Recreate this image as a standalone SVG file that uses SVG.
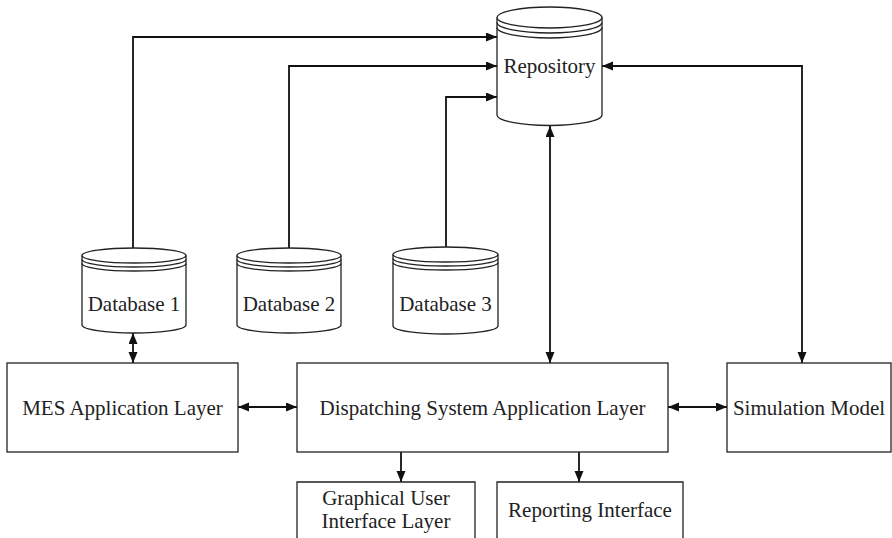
<svg xmlns="http://www.w3.org/2000/svg" width="892" height="538" viewBox="0 0 892 538">
<defs>
<marker id="ah" markerUnits="userSpaceOnUse" markerWidth="12" markerHeight="10" refX="11" refY="4.5" orient="auto-start-reverse">
<path d="M0,0 L11,4.5 L0,9 z" fill="#111"/>
</marker>
<style>
.box{fill:#fff;stroke:#222;stroke-width:1.3}
.cyl{fill:#fff;stroke:#222;stroke-width:1.3}
.ln{fill:none;stroke:#222;stroke-width:1.3}
.t{font-family:"Liberation Serif","Times New Roman",serif;font-size:21px;fill:#222;text-anchor:middle}
.c{fill:none;stroke:#111;stroke-width:1.8}
</style>
</defs>
<rect width="892" height="538" fill="#fff"/>
<g id="connectors">
<path class="c" d="M133,248 V37 H497" marker-end="url(#ah)"/>
<path class="c" d="M289,248 V66 H497" marker-end="url(#ah)"/>
<path class="c" d="M446,247 V97 H497" marker-end="url(#ah)"/>
<path class="c" d="M802,363 V66 H602" marker-start="url(#ah)" marker-end="url(#ah)"/>
<path class="c" d="M550,126 V363" marker-start="url(#ah)" marker-end="url(#ah)"/>
<path class="c" d="M133,333 V363" marker-start="url(#ah)" marker-end="url(#ah)"/>
<path class="c" d="M238,407 H297" marker-start="url(#ah)" marker-end="url(#ah)"/>
<path class="c" d="M668,407 H727" marker-start="url(#ah)" marker-end="url(#ah)"/>
<path class="c" d="M401,452 V482" marker-end="url(#ah)"/>
<path class="c" d="M579,452 V482" marker-end="url(#ah)"/>
</g>
<g id="repository">
<path class="cyl" d="M497,17.5 V115 A52.5,10.5 0 0 0 602,115 V17.5"/>
<ellipse class="cyl" cx="549.5" cy="17.5" rx="52.5" ry="10.5"/>
<path class="ln" d="M497,22.5 A52.5,10.5 0 0 0 602,22.5 M497,27.5 A52.5,10.5 0 0 0 602,27.5"/>
<text class="t" x="549.5" y="73">Repository</text>
</g>
<g id="database1">
<path class="cyl" d="M82,255.5 V325 A52,8 0 0 0 186,325 V255.5"/>
<ellipse class="cyl" cx="134" cy="255.5" rx="52" ry="7.5"/>
<path class="ln" d="M82,259.5 A52,7.5 0 0 0 186,259.5 M82,263.5 A52,7.5 0 0 0 186,263.5"/>
<text class="t" x="134" y="311">Database 1</text>
</g>
<g id="database2">
<path class="cyl" d="M237,255.5 V325 A52,8 0 0 0 341,325 V255.5"/>
<ellipse class="cyl" cx="289" cy="255.5" rx="52" ry="7.5"/>
<path class="ln" d="M237,259.5 A52,7.5 0 0 0 341,259.5 M237,263.5 A52,7.5 0 0 0 341,263.5"/>
<text class="t" x="289" y="311">Database 2</text>
</g>
<g id="database3">
<path class="cyl" d="M393,254.5 V326 A52.5,8 0 0 0 498,326 V254.5"/>
<ellipse class="cyl" cx="445.5" cy="254.5" rx="52.5" ry="7.5"/>
<path class="ln" d="M393,258.5 A52.5,7.5 0 0 0 498,258.5 M393,262.5 A52.5,7.5 0 0 0 498,262.5"/>
<text class="t" x="445.5" y="311">Database 3</text>
</g>
<g id="mes">
<rect class="box" x="7" y="363" width="231" height="89"/>
<text class="t" x="122.5" y="415">MES Application Layer</text>
</g>
<g id="dispatching">
<rect class="box" x="297" y="363" width="371" height="89"/>
<text class="t" x="482.5" y="415">Dispatching System Application Layer</text>
</g>
<g id="simulation">
<rect class="box" x="727" y="363" width="164" height="89"/>
<text class="t" x="809" y="415">Simulation Model</text>
</g>
<g id="gui">
<path class="box" d="M297,545 V482 H475 V545"/>
<text class="t" x="386" y="505">Graphical User</text>
<text class="t" x="386" y="528">Interface Layer</text>
</g>
<g id="reporting">
<path class="box" d="M497,545 V482 H683 V545"/>
<text class="t" x="590" y="517">Reporting Interface</text>
</g>
</svg>
